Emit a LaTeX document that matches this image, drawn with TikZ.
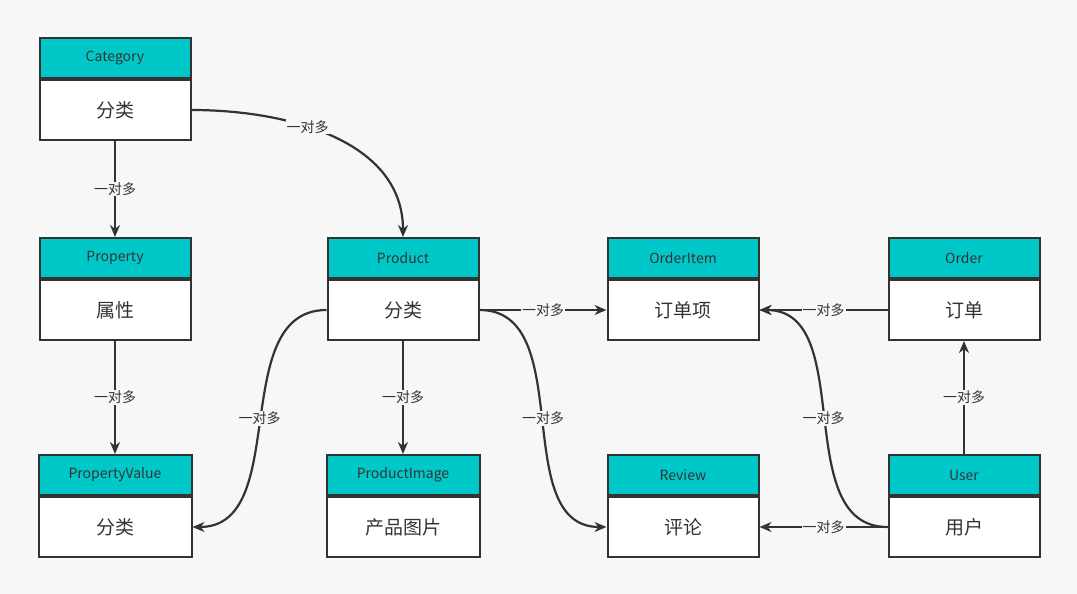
\documentclass[tikz,border=0pt]{standalone}
\usepackage{fontspec}
\setmainfont{Noto Sans CJK SC}
\usetikzlibrary{arrows.meta}
\definecolor{bg}{HTML}{F7F7F7}
\definecolor{hd}{HTML}{00C8C8}
\definecolor{ln}{HTML}{333333}
\begin{document}
\begin{tikzpicture}[x=1pt,y=-1pt,
  hdr/.style={draw=ln,line width=2pt,fill=hd,minimum width=151pt,minimum height=40pt,inner sep=0pt,font=\fontsize{14}{14}\selectfont,text=ln},
  bdy/.style={draw=ln,line width=2pt,fill=white,minimum width=151pt,minimum height=60pt,inner sep=0pt,font=\fontsize{19}{19}\selectfont,text=ln},
  arr/.style={draw=ln,line width=2.2pt,-{Stealth[length=12pt,width=10pt]}},
  lbl/.style={fill=bg,inner sep=1pt,font=\fontsize{14}{14}\selectfont,text=ln}]
\fill[bg] (0,0) rectangle (1077,594);
\newcommand{\ent}[4]{%
  \node[hdr,anchor=north] (#1h) at (#2,#3) {#4};
  \node[bdy,anchor=north] (#1) at (#2h.south) {};}
\node[hdr] (cath) at (115,58) {Category};
\node[bdy,anchor=north] (cat) at (cath.south) {分类};
\node[hdr] (proph) at (115,258) {Property};
\node[bdy,anchor=north] (prop) at (proph.south) {属性};
\node[hdr,minimum width=153pt] (pvh) at (115,475) {PropertyValue};
\node[bdy,minimum width=153pt,anchor=north] (pv) at (pvh.south) {分类};
\node[hdr] (prodh) at (403,258) {Product};
\node[bdy,anchor=north] (prod) at (prodh.south) {分类};
\node[hdr,minimum width=153pt] (pih) at (403,475) {ProductImage};
\node[bdy,minimum width=153pt,anchor=north] (pi) at (pih.south) {产品图片};
\node[hdr] (oih) at (683,258) {OrderItem};
\node[bdy,anchor=north] (oi) at (oih.south) {订单项};
\node[hdr] (ordh) at (964,258) {Order};
\node[bdy,anchor=north] (ord) at (ordh.south) {订单};
\node[hdr] (revh) at (683,475) {Review};
\node[bdy,anchor=north] (rev) at (revh.south) {评论};
\node[hdr] (userh) at (964,475) {User};
\node[bdy,anchor=north] (user) at (userh.south) {用户};
\draw[arr] (cat.east) to[out=0,in=90] node[lbl,pos=0.4] {一对多} (prodh.north);
\draw[arr] (cat.south) -- node[lbl] {一对多} (proph.north);
\draw[arr] (prop.south) -- node[lbl] {一对多} (pvh.north);
\draw[arr] (prod.west) to[out=180,in=0] node[lbl] {一对多} (pv.east);
\draw[arr] (prod.south) -- node[lbl] {一对多} (pih.north);
\draw[arr] (prod.east) -- node[lbl] {一对多} (oi.west);
\draw[arr] (prod.east) to[out=0,in=180] node[lbl] {一对多} (rev.west);
\draw[arr] (ord.west) -- node[lbl] {一对多} (oi.east);
\draw[arr] (userh.north) -- node[lbl] {一对多} (ord.south);
\draw[arr] (user.west) to[out=180,in=0] node[lbl] {一对多} (oi.east);
\draw[arr] (user.west) -- node[lbl] {一对多} (rev.east);
\end{tikzpicture}
\end{document}
